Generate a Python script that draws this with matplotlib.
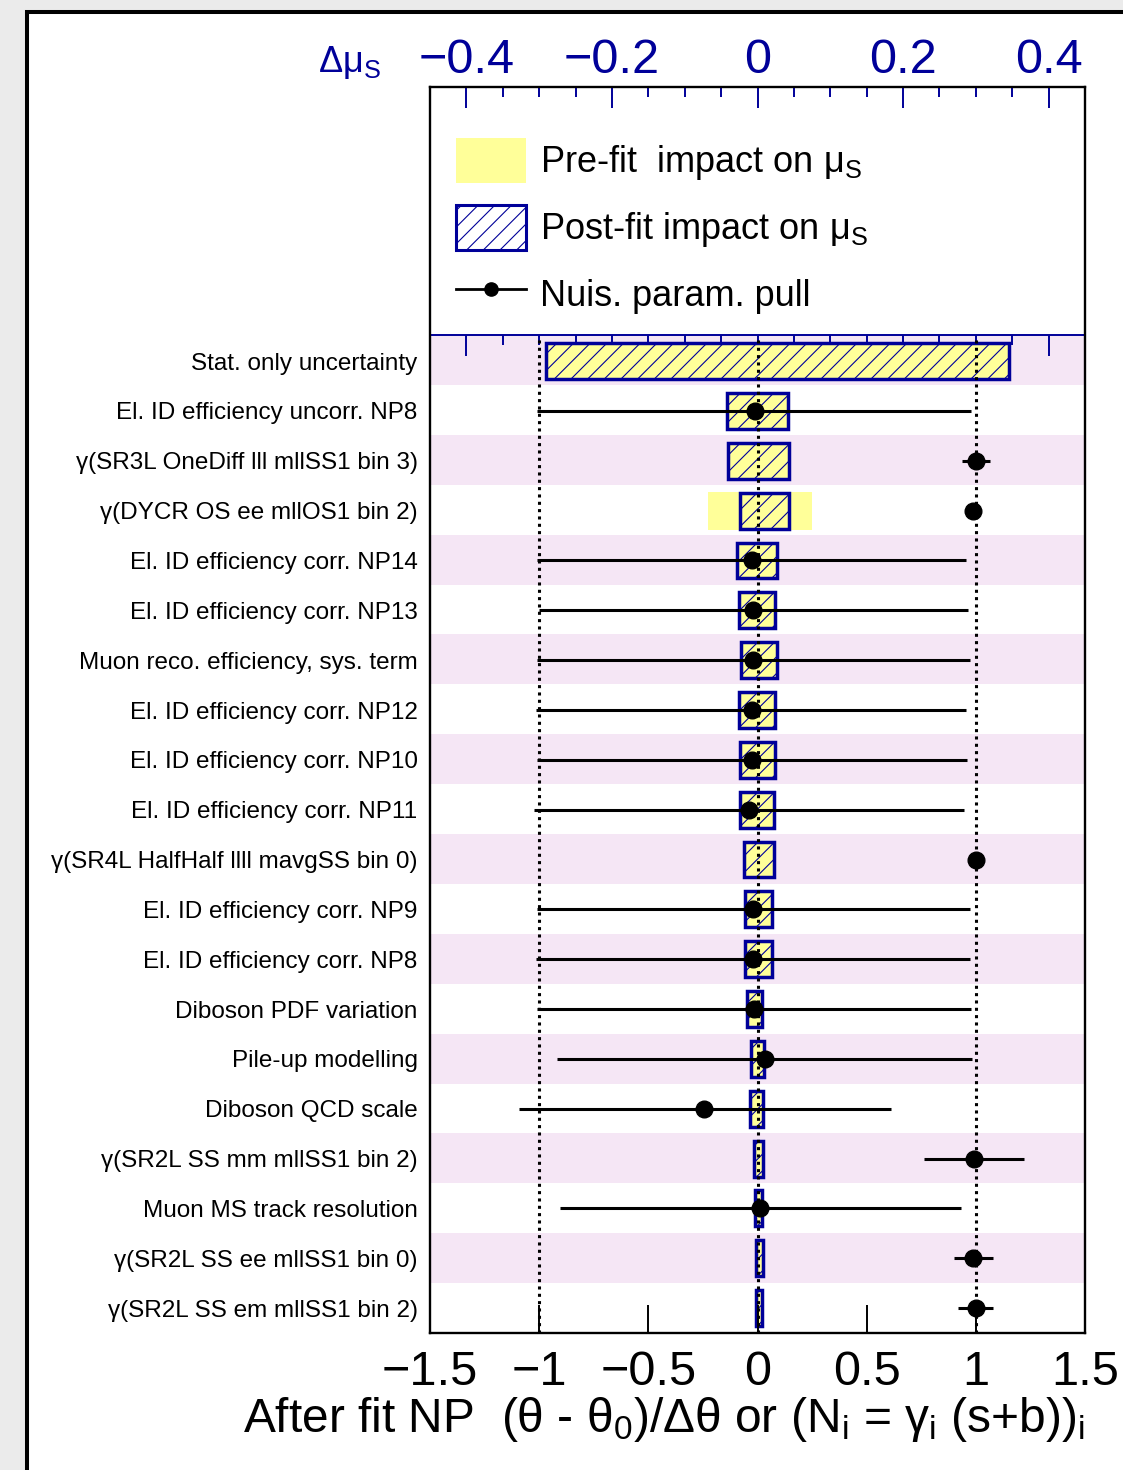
import matplotlib
matplotlib.use('Agg')
import matplotlib.pyplot as plt
from matplotlib.patches import Patch, Rectangle
from matplotlib.lines import Line2D
from matplotlib.ticker import MultipleLocator, FixedLocator
import numpy as np

# Matplotlib tweaks -----------------------------------------------------------
matplotlib.rcParams.update({'font.family': ['Liberation Sans', 'DejaVu Sans'],
                            'mathtext.fontset': 'custom',
                            'mathtext.rm': 'Liberation Sans',
                            'mathtext.it': 'Liberation Sans:italic',
                            'mathtext.bf': 'Liberation Sans:bold',
                            'mathtext.default': 'regular',
                            'hatch.linewidth': 0.8})

blue = '#000099'
yellow = '#ffff99'
band = '#f5e6f5'

# Data ------------------------------------------------------------------------
labels = ['Stat. only uncertainty',
          'El. ID efficiency uncorr. NP8',
          'γ(SR3L OneDiff lll mllSS1 bin 3)',
          'γ(DYCR OS ee mllOS1 bin 2)',
          'El. ID efficiency corr. NP14',
          'El. ID efficiency corr. NP13',
          'Muon reco. efficiency, sys. term',
          'El. ID efficiency corr. NP12',
          'El. ID efficiency corr. NP10',
          'El. ID efficiency corr. NP11',
          'γ(SR4L HalfHalf llll mavgSS bin 0)',
          'El. ID efficiency corr. NP9',
          'El. ID efficiency corr. NP8',
          'Diboson PDF variation',
          'Pile-up modelling',
          'Diboson QCD scale',
          'γ(SR2L SS mm mllSS1 bin 2)',
          'Muon MS track resolution',
          'γ(SR2L SS ee mllSS1 bin 0)',
          'γ(SR2L SS em mllSS1 bin 2)']

# impact on mu_S (down / up edges)
prefit_lo = [-0.290, -0.0425, -0.0403, -0.0677, -0.0288, -0.0256, -0.0233,
             -0.0252, -0.0242, -0.0242, -0.0188, -0.0178, -0.0174, -0.0151,
             -0.0091, -0.0105, -0.0046, -0.0037, -0.0027, -0.0027]
prefit_hi = [0.346, 0.0421, 0.0430, 0.0750, 0.0274, 0.0247, 0.0265,
             0.0238, 0.0238, 0.0220, 0.0220, 0.0206, 0.0201, 0.0055,
             0.0091, 0.0085, 0.0078, 0.0064, 0.0069, 0.0064]
postfit_lo = [-0.290, -0.0425, -0.0403, -0.0242, -0.0288, -0.0256, -0.0233,
              -0.0252, -0.0242, -0.0242, -0.0188, -0.0178, -0.0174, -0.0151,
              -0.0091, -0.0105, -0.0046, -0.0037, -0.0027, -0.0027]
postfit_hi = [0.346, 0.0421, 0.0430, 0.0430, 0.0274, 0.0247, 0.0265,
              0.0238, 0.0238, 0.0220, 0.0220, 0.0206, 0.0201, 0.0055,
              0.0091, 0.0069, 0.0078, 0.0064, 0.0069, 0.0064]

# pulls (no pull for the stat only line)
pull = [np.nan, -0.012, 0.999, 0.987, -0.027, -0.020, -0.020, -0.027, -0.027,
        -0.038, 0.999, -0.020, -0.020, -0.017, 0.034, -0.244, 0.993, 0.011,
        0.987, 0.999]
pull_err_lo = [0, 0.996, 0.064, 0.02, 0.981, 0.982, 0.991, 0.989, 0.983,
               0.987, 0.02, 0.990, 0.993, 0.991, 0.951, 0.850, 0.229, 0.914,
               0.087, 0.082]
pull_err_hi = [0, 0.990, 0.067, 0.02, 0.982, 0.982, 0.993, 0.982, 0.985,
               0.985, 0.02, 0.993, 0.993, 0.993, 0.947, 0.854, 0.228, 0.921,
               0.093, 0.081]

pull_ticks = [-1.5, -1, -0.5, 0, 0.5, 1, 1.5]
mu_ticks = [-0.4, -0.2, 0, 0.2, 0.4]

# -----------------------------------------------------------------------------

W, H = 1123, 1470
n = len(labels)
n_legend = 5
row_y = np.arange(n)[::-1] + 0.5


def fig_box(l, t, r, b):
    return [l / W, 1 - b / H, (r - l) / W, (b - t) / H]


def fmt(v):
    return '{:g}'.format(v).replace('-', '\u2212')


fig = plt.figure(figsize=(W / 100, H / 100), dpi=100)
fig.patch.set_facecolor('#ebebeb')
fig.patches.append(Rectangle((27 / W, -0.1), 1.2, 1.1 - 12 / H,
                             transform=fig.transFigure, facecolor='white',
                             edgecolor='black', lw=2.9, zorder=-10))

# lower part: bands + separator ticks
ax_sep = fig.add_axes(fig_box(430, 335, 1085, 1333))
ax_sep.set_xlim(-0.45, 0.45)
ax_sep.set_ylim(0, n)
for i, y in enumerate(row_y):
    if i % 2 == 0:
        ax_sep.axhspan(y - 0.5, y + 0.5, color=band, lw=0)
for s in ['bottom', 'left', 'right']:
    ax_sep.spines[s].set_visible(False)
ax_sep.spines['top'].set_color(blue)
ax_sep.spines['top'].set_linewidth(1.4)
ax_sep.xaxis.tick_top()
ax_sep.xaxis.set_major_locator(FixedLocator(mu_ticks))
ax_sep.xaxis.set_minor_locator(MultipleLocator(0.05))
ax_sep.tick_params(axis='x', which='both', direction='in', colors=blue,
                   width=1.4, labeltop=False)
ax_sep.tick_params(axis='x', which='major', length=15)
ax_sep.tick_params(axis='x', which='minor', length=7)
ax_sep.set_yticks([])
ax_sep.set_zorder(0)

# impact axes (delta mu on top)
ax = fig.add_axes(fig_box(430, 87, 1085, 1333))
ax.patch.set_visible(False)
ax.set_zorder(1)
ax.set_xlim(-0.45, 0.45)
ax.set_ylim(0, n + n_legend)

ax.barh(row_y, np.array(prefit_hi) - np.array(prefit_lo), left=prefit_lo,
        height=0.76, color=yellow, lw=0)
ax.barh(row_y, np.array(postfit_hi) - np.array(postfit_lo), left=postfit_lo,
        height=0.72, facecolor='none', edgecolor=blue, hatch='//', lw=2.5)

ax.set_yticks(row_y)
ax.set_yticklabels(labels)
ax.tick_params(axis='y', length=0, pad=9, labelsize=17.5)

# pull axes (bottom)
axp = ax.twiny()
axp.set_zorder(2)
axp.set_xlim(-1.5, 1.5)
axp.vlines([-1, 0, 1], 0, n, colors='k', linestyles=(0, (1, 1.4)), lw=2.2)
axp.errorbar(pull, row_y, xerr=[pull_err_lo, pull_err_hi], fmt='o',
             color='k', ms=12, elinewidth=2.2, capsize=0)

ax.xaxis.tick_top()
ax.xaxis.set_major_locator(FixedLocator(mu_ticks))
ax.set_xticklabels([fmt(v) for v in mu_ticks])
ax.xaxis.set_minor_locator(MultipleLocator(0.05))
ax.tick_params(axis='x', which='both', direction='in', colors=blue,
               width=1.4, labelsize=35, pad=3)
ax.tick_params(axis='x', which='major', length=15)
ax.tick_params(axis='x', which='minor', length=7)
for s in ['bottom', 'left', 'top', 'right']:
    ax.spines[s].set_linewidth(1.7)
    ax.spines[s].set_color('k')

axp.xaxis.tick_bottom()
axp.set_xticks(pull_ticks)
axp.set_xticklabels([fmt(v) for v in pull_ticks])
axp.tick_params(axis='x', direction='in', length=20, width=1.4, color='k',
                labelsize=35, pad=12)
for s in ['bottom', 'left', 'top', 'right']:
    axp.spines[s].set_visible(False)

axp.text(1.0, -(1432 - 1333) / 1246,
         'After fit NP  (θ - θ$_0$)/Δθ or (N$_i$ = γ$_i$ (s+b))$_i$',
         transform=axp.transAxes, ha='right', va='baseline', fontsize=34.5)

fig.text(318 / W, 1 - 72 / H, 'Δμ$_S$', color=blue, fontsize=26,
         ha='left', va='baseline')

# Legend
handles = [Patch(facecolor=yellow, edgecolor='none'),
           Patch(facecolor='white', edgecolor=blue, hatch='//', lw=2.2),
           Line2D([], [], color='k', marker='o', ms=9.5, lw=2)]
leg_labels = ['Pre-fit  impact on μ$_S$', 'Post-fit impact on μ$_S$',
              'Nuis. param. pull']
axp.legend(handles, leg_labels, loc='upper left',
           bbox_to_anchor=((456 - 430) / 655, (1333 - 138) / 1246),
           frameon=False, fontsize=26, borderpad=0, borderaxespad=0,
           handlelength=1.94, handleheight=1.55, handletextpad=0.4,
           labelspacing=0.6)

plt.savefig('out.png', dpi=100, facecolor=fig.get_facecolor())
